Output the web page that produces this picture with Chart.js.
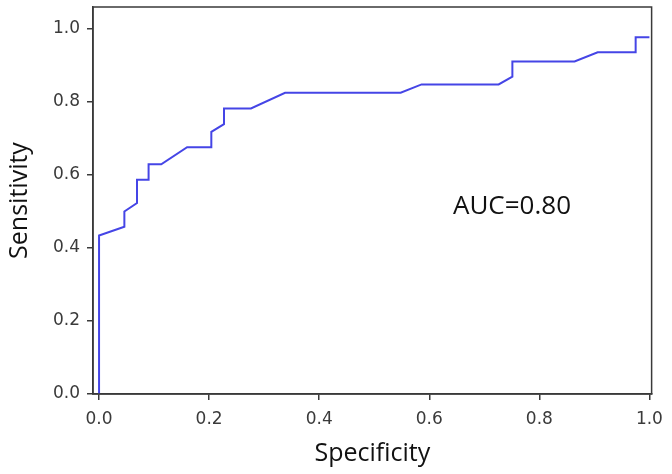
<!DOCTYPE html>
<html lang="en">
<head>
    <meta charset="UTF-8">
    <title>ROC curve</title>
    <script src="https://cdn.jsdelivr.net/npm/chart.js"></script>
    <style>
        body {
            margin: 0;
            padding: 0;
            background: #fff;
        }
        #wrap {
            width: 672px;
            height: 474px;
        }
    </style>
</head>
<body>
    <div id="wrap"><canvas id="rocChart"></canvas></div>

    <script>
        // ROC curve points
        const specificity = [0, 0, 0.046, 0.046, 0.069, 0.069, 0.090, 0.090, 0.113, 0.160, 0.204, 0.204, 0.227,
            0.227, 0.276, 0.338, 0.548, 0.586, 0.726, 0.751, 0.751, 0.864, 0.906, 0.975, 0.975, 1.0];
        const sensitivity = [0, 0.434, 0.458, 0.500, 0.523, 0.587, 0.587, 0.629, 0.629, 0.676, 0.676, 0.718, 0.739,
            0.782, 0.782, 0.825, 0.825, 0.848, 0.848, 0.869, 0.911, 0.911, 0.936, 0.936, 0.977, 0.977];
        const xTicks = [0, 0.2, 0.4, 0.6, 0.8, 1.0];
        const yTicks = [0, 0.2, 0.4, 0.6, 0.8, 1.0];
        const aucLabel = 'AUC=0.80';

        const axisColor = '#3a3a3a';
        const tickFont = { family: 'DejaVu Sans', size: 17 };
        const titleFont = { family: 'Open Sans', size: 25 };

        // box around the plot area plus the AUC text
        const frameAndLabel = {
            id: 'frameAndLabel',
            afterDraw(chart) {
                const { ctx, chartArea, scales } = chart;
                ctx.save();
                ctx.strokeStyle = axisColor;
                ctx.lineWidth = 1.5;
                ctx.strokeRect(chartArea.left, chartArea.top, chartArea.right - chartArea.left, chartArea.bottom - chartArea.top);
                ctx.fillStyle = '#111';
                ctx.font = '26px "Open Sans"';
                ctx.textAlign = 'left';
                ctx.textBaseline = 'middle';
                ctx.fillText(aucLabel, scales.x.getPixelForValue(0.643), scales.y.getPixelForValue(0.512));
                ctx.restore();
            }
        };

        const ctx = document.getElementById('rocChart').getContext('2d');
        new Chart(ctx, {
            type: 'scatter',
            data: {
                datasets: [{
                    data: specificity.map((x, i) => ({ x: x, y: sensitivity[i] })),
                    showLine: true,
                    borderColor: '#4545e6',
                    borderWidth: 2,
                    pointRadius: 0,
                    tension: 0,
                    fill: false
                }]
            },
            options: {
                responsive: true,
                maintainAspectRatio: false,
                animation: false,
                layout: { padding: { top: 7, right: 17, left: 0, bottom: 0 } },
                plugins: {
                    legend: { display: false },
                    tooltip: { enabled: false }
                },
                scales: {
                    x: {
                        type: 'linear',
                        min: -0.011,
                        max: 1.004,
                        afterBuildTicks: s => { s.ticks = xTicks.map(v => ({ value: v })); },
                        afterFit: s => { s.height = 80; },
                        grid: {
                            drawOnChartArea: false,
                            drawTicks: true,
                            tickLength: 6,
                            color: axisColor,
                            lineWidth: 1.5
                        },
                        border: { color: axisColor, width: 1.5 },
                        ticks: {
                            font: tickFont,
                            color: '#3a3a3a',
                            padding: 9,
                            maxRotation: 0,
                            callback: v => v.toFixed(1)
                        },
                        title: {
                            display: true,
                            text: 'Specificity',
                            font: titleFont,
                            color: '#111',
                            padding: { top: 0, bottom: 5 }
                        }
                    },
                    y: {
                        type: 'linear',
                        min: 0,
                        max: 1.06,
                        afterBuildTicks: s => { s.ticks = yTicks.map(v => ({ value: v })); },
                        afterFit: s => { s.width = 93; s.paddingTop = 0; s.paddingBottom = 0; },
                        grid: {
                            drawOnChartArea: false,
                            drawTicks: true,
                            tickLength: 6,
                            color: axisColor,
                            lineWidth: 1.5
                        },
                        border: { color: axisColor, width: 1.5 },
                        ticks: {
                            font: tickFont,
                            color: '#3a3a3a',
                            padding: 7,
                            callback: v => v.toFixed(1)
                        },
                        title: {
                            display: true,
                            text: 'Sensitivity',
                            font: titleFont,
                            color: '#111',
                            padding: { top: 5, bottom: 0 }
                        }
                    }
                }
            },
            plugins: [frameAndLabel]
        });
    </script>
</body>
</html>
